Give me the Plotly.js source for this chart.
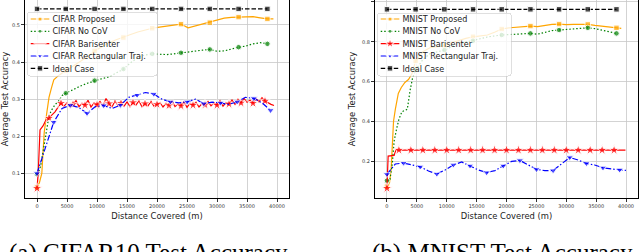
<!DOCTYPE html>
<html><head><meta charset="utf-8">
<script src="https://cdn.plot.ly/plotly-3.0.1.min.js"></script>
<style>html,body{margin:0;padding:0;background:#fff;overflow:hidden}#chart{width:640px;height:252px}</style>
</head><body><div id="chart"></div>
<script>
// ---------- data ----------
var xTickVals = [0, 5000, 10000, 15000, 20000, 25000, 30000, 35000, 40000];
var xTickText = ['0', '5000', '10000', '15000', '20000', '25000', '30000', '35000', '40000'];
var cifarYTickVals = [0.1, 0.2, 0.3, 0.4, 0.5];
var cifarYTickText = ['0.1', '0.2', '0.3', '0.4', '0.5'];
var mnistYTickVals = [0.2, 0.4, 0.6, 0.8, 1.0];
var mnistYTickText = ['0.2', '0.4', '0.6', '0.8', '1.0'];

var seriesNamesCifar = ['CIFAR Proposed', 'CIFAR No CoV', 'CIFAR Barisenter', 'CIFAR Rectangular Traj.', 'Ideal Case'];
var seriesNamesMnist = ['MNIST Proposed', 'MNIST No CoV', 'MNIST Barisenter', 'MNIST Rectangular Traj.', 'Ideal Case'];

var idealX = [0, 4800, 9600, 14400, 19200, 24000, 28800, 33600, 38400];
var cifarIdealY = [0.543, 0.543, 0.543, 0.543, 0.543, 0.543, 0.543, 0.543, 0.543];
var mnistIdealY = [0.963, 0.963, 0.963, 0.963, 0.963, 0.963, 0.963, 0.963, 0.963];

var cifarPropX = [0, 400, 800, 1000, 1200, 1600, 2000, 2400, 2800, 3600, 4800, 6000, 7200, 8400, 9600, 10800, 12000, 13200, 14400, 15600, 16800, 18000, 19200, 20400, 21600, 22800, 24000, 25200, 26400, 27600, 28800, 30000, 31200, 32400, 33600, 34800, 36000, 37200, 38400, 39400];
var cifarPropY = [0.0625, 0.075, 0.10, 0.15, 0.21, 0.26, 0.305, 0.33, 0.352, 0.364, 0.377, 0.39, 0.402, 0.414, 0.43, 0.441, 0.452, 0.46, 0.466, 0.474, 0.481, 0.487, 0.491, 0.494, 0.497, 0.5, 0.502, 0.492, 0.497, 0.501, 0.506, 0.513, 0.518, 0.52, 0.521, 0.521, 0.522, 0.519, 0.516, 0.516];

var cifarNoCovX = [0, 300, 600, 900, 1200, 1600, 2000, 2400, 3000, 3600, 4200, 4800, 6000, 7200, 8400, 9600, 10800, 12000, 13200, 14400, 15600, 16800, 18000, 19200, 20400, 21600, 22800, 24000, 25200, 26400, 27600, 28800, 30000, 31200, 32400, 33600, 34800, 36000, 37200, 38400];
var cifarNoCovY = [0.098, 0.105, 0.12, 0.15, 0.18, 0.22, 0.255, 0.27, 0.285, 0.295, 0.31, 0.316, 0.326, 0.335, 0.343, 0.35, 0.355, 0.36, 0.37, 0.381, 0.398, 0.412, 0.419, 0.422, 0.421, 0.42, 0.422, 0.425, 0.427, 0.431, 0.432, 0.434, 0.429, 0.43, 0.436, 0.44, 0.443, 0.449, 0.452, 0.449];

var cifarBariX = [0, 200, 500, 1000, 1500, 2000, 2500, 3000, 3500, 4000, 4500, 5000, 5500, 6000, 6500, 7000, 7500, 8000, 8500, 9000, 9500, 10000, 10500, 11000, 11500, 12000, 12500, 13000, 13500, 14000, 14500, 15000, 15500, 16000, 16500, 17000, 17500, 18000, 18500, 19000, 19500, 20000, 20500, 21000, 21500, 22000, 22500, 23000, 23500, 24000, 24500, 25000, 25500, 26000, 26500, 27000, 27500, 28000, 28500, 29000, 29500, 30000, 30500, 31000, 31500, 32000, 32500, 33000, 33500, 34000, 34500, 35000, 35500, 36000, 36500, 37000, 37500, 38000, 38500, 39000, 39500];
var cifarBariY = [0.06, 0.10, 0.217, 0.228, 0.244, 0.249, 0.258, 0.266, 0.278, 0.289, 0.281, 0.29, 0.279, 0.286, 0.296, 0.28, 0.289, 0.284, 0.297, 0.279, 0.29, 0.285, 0.294, 0.282, 0.302, 0.288, 0.279, 0.295, 0.283, 0.289, 0.281, 0.293, 0.28, 0.291, 0.284, 0.296, 0.279, 0.288, 0.282, 0.294, 0.281, 0.286, 0.291, 0.279, 0.289, 0.283, 0.295, 0.28, 0.287, 0.282, 0.293, 0.278, 0.289, 0.284, 0.292, 0.279, 0.288, 0.285, 0.294, 0.282, 0.29, 0.284, 0.296, 0.281, 0.291, 0.287, 0.298, 0.286, 0.3, 0.29, 0.302, 0.292, 0.297, 0.289, 0.301, 0.293, 0.304, 0.295, 0.29, 0.286, 0.283];

var rectX = [0, 1390, 2780, 4170, 5560, 6950, 8340, 9730, 11120, 12510, 13900, 15290, 16680, 18070, 19460, 20850, 22240, 23630, 25020, 26410, 27800, 29190, 30580, 31970, 33360, 34750, 36140, 37530, 38920];
var cifarRectY = [0.10, 0.17, 0.238, 0.275, 0.284, 0.278, 0.262, 0.28, 0.283, 0.275, 0.284, 0.305, 0.311, 0.318, 0.314, 0.3, 0.293, 0.29, 0.293, 0.3, 0.288, 0.292, 0.29, 0.286, 0.293, 0.305, 0.302, 0.29, 0.27];

var mnistPropX = [0, 400, 700, 900, 1100, 1400, 1900, 2400, 3000, 3600, 4200, 4800, 6000, 7200, 8400, 9600, 10800, 12000, 13200, 14400, 15600, 16800, 18000, 19200, 20400, 21600, 22800, 24000, 25200, 26400, 27600, 28800, 30000, 31200, 32400, 33600, 34800, 36000, 37200, 38400, 39200];
var mnistPropY = [0.071, 0.085, 0.16, 0.30, 0.40, 0.46, 0.54, 0.57, 0.595, 0.61, 0.64, 0.704, 0.75, 0.77, 0.776, 0.78, 0.795, 0.807, 0.817, 0.825, 0.83, 0.834, 0.848, 0.864, 0.87, 0.874, 0.876, 0.879, 0.876, 0.882, 0.887, 0.889, 0.886, 0.887, 0.888, 0.887, 0.882, 0.878, 0.873, 0.87, 0.867];

var mnistNoCovX = [0, 500, 900, 1200, 1600, 2000, 2500, 3000, 3400, 3900, 4300, 4800, 6000, 7200, 8400, 9600, 10800, 12000, 13200, 14400, 15600, 16800, 18000, 19200, 20400, 21600, 22800, 24000, 25200, 26400, 27600, 28800, 30000, 31200, 32400, 33600, 34800, 36000, 37200, 38400];
var mnistNoCovY = [0.101, 0.104, 0.19, 0.30, 0.36, 0.41, 0.448, 0.455, 0.46, 0.56, 0.62, 0.658, 0.71, 0.74, 0.75, 0.758, 0.775, 0.79, 0.798, 0.805, 0.815, 0.824, 0.83, 0.834, 0.836, 0.838, 0.84, 0.842, 0.838, 0.848, 0.856, 0.859, 0.862, 0.866, 0.868, 0.87, 0.866, 0.858, 0.85, 0.842];

var mnistBariX = [0, 200, 1200, 1500, 2000, 4000, 6000, 8000, 10000, 12000, 14000, 16000, 18000, 20000, 22000, 24000, 26000, 28000, 30000, 32000, 34000, 36000, 38000, 39900];
var mnistBariY = [0.063, 0.225, 0.228, 0.255, 0.255, 0.255, 0.255, 0.255, 0.255, 0.255, 0.255, 0.255, 0.255, 0.255, 0.255, 0.255, 0.255, 0.255, 0.255, 0.255, 0.255, 0.255, 0.255, 0.255];

var mnistRectX = [0, 1390, 2780, 4170, 5560, 6950, 8340, 9730, 11120, 12510, 13900, 15290, 16680, 18070, 19460, 20850, 22240, 23630, 25020, 26410, 27800, 29190, 30580, 31970, 33360, 34750, 36140, 37530, 38920, 40000];
var mnistRectY = [0.133, 0.185, 0.19, 0.182, 0.171, 0.15, 0.135, 0.155, 0.181, 0.195, 0.176, 0.155, 0.142, 0.152, 0.176, 0.198, 0.203, 0.18, 0.158, 0.152, 0.152, 0.185, 0.218, 0.205, 0.188, 0.18, 0.166, 0.16, 0.156, 0.153];

// ---------- styles ----------
var STY = [
  {color: '#ffa500', dash: 'solid',            symbol: 'square',        size: 5.5, every: 4800, factor: 1},
  {color: '#008000', dash: '1.5px,2px',        symbol: 'circle',        size: 5.5, every: 4800, factor: 1},
  {color: '#ff0000', dash: 'solid',            symbol: 'star',          size: 8,   every: 2000, factor: 1.33},
  {color: '#0000ff', dash: '6px,2px,1.5px,2px',symbol: 'triangle-down', size: 6.5, every: 2780, factor: 1.155},
  {color: '#000000', dash: '4.5px,2px',        symbol: 'square',        size: 5.5, every: 4800, factor: 1}
];

function makeTrace(name, xs, ys, st, xa, ya, leg) {
  return {
    type: 'scatter', mode: 'lines+markers', name: name, x: xs, y: ys,
    xaxis: xa, yaxis: ya, legend: leg,
    line: {color: st.color, width: 1.2, dash: st.dash},
    marker: {color: st.color, symbol: st.symbol,
             size: xs.map(function (x) { return x % st.every === 0 ? st.size : 0; })}
  };
}

var cifarData = [[cifarPropX, cifarPropY], [cifarNoCovX, cifarNoCovY], [cifarBariX, cifarBariY], [rectX, cifarRectY], [idealX, cifarIdealY]];
var mnistData = [[mnistPropX, mnistPropY], [mnistNoCovX, mnistNoCovY], [mnistBariX, mnistBariY], [mnistRectX, mnistRectY], [idealX, mnistIdealY]];

var traces = [];
cifarData.forEach(function (d, i) { traces.push(makeTrace(seriesNamesCifar[i], d[0], d[1], STY[i], 'x', 'y', 'legend')); });
mnistData.forEach(function (d, i) { traces.push(makeTrace(seriesNamesMnist[i], d[0], d[1], STY[i], 'x2', 'y2', 'legend2')); });

var FONT = 'DejaVu Sans, sans-serif';
function axBase(extra) {
  var a = {
    showline: true, mirror: true, linecolor: '#000', linewidth: 1,
    ticks: 'outside', ticklen: 3, tickwidth: 0.8, tickcolor: '#000',
    showgrid: true, gridcolor: '#c8c8c8', gridwidth: 0.8, zeroline: false,
    tickfont: {family: FONT, size: 5, color: '#333'}, fixedrange: true
  };
  for (var k in extra) a[k] = extra[k];
  return a;
}

var W = 640, H = 252;
var layout = {
  width: W, height: H, margin: {l: 0, r: 0, t: 0, b: 0},
  paper_bgcolor: '#fff', plot_bgcolor: '#fff', showlegend: true,
  font: {family: FONT, color: '#222'},
  xaxis: axBase({domain: [25 / W, 289 / W], anchor: 'y', range: [-2000, 42000],
    tickvals: xTickVals, ticktext: xTickText,
    title: {text: 'Distance Covered (m)', font: {family: FONT, size: 8.4, color: '#222'}, standoff: 5}}),
  yaxis: axBase({domain: [54 / H, 1], anchor: 'x', range: [0.034, 0.567],
    tickvals: cifarYTickVals, ticktext: cifarYTickText,
    title: {text: 'Average Test Accuracy', font: {family: FONT, size: 8.4, color: '#222'}, standoff: 4}}),
  xaxis2: axBase({domain: [375 / W, 638 / W], anchor: 'y2', range: [-2000, 42000],
    tickvals: xTickVals, ticktext: xTickText,
    title: {text: 'Distance Covered (m)', font: {family: FONT, size: 8.4, color: '#222'}, standoff: 5}}),
  yaxis2: axBase({domain: [54 / H, 1], anchor: 'x2', range: [0.014, 1.01],
    tickvals: mnistYTickVals, ticktext: mnistYTickText,
    title: {text: 'Average Test Accuracy', font: {family: FONT, size: 8.4, color: '#222'}, standoff: 5}}),
  legend: {x: 27 / W, y: 1 - 9 / H, xanchor: 'left', yanchor: 'top', bgcolor: 'rgba(255,255,255,0.8)',
    bordercolor: '#cccccc', borderwidth: 1, font: {family: FONT, size: 13, color: '#222'}},
  legend2: {x: 377 / W, y: 1 - 9 / H, xanchor: 'left', yanchor: 'top', bgcolor: 'rgba(255,255,255,0.8)',
    bordercolor: '#cccccc', borderwidth: 1, font: {family: FONT, size: 13, color: '#222'}},
  annotations: [
    {xref: 'paper', yref: 'paper', x: 7 / W, y: 1 - 237 / H, xanchor: 'left', yanchor: 'top', showarrow: false,
     text: '(a) CIFAR10 Test Accuracy', font: {family: 'Liberation Serif, serif', size: 25, color: '#000'}},
    {xref: 'paper', yref: 'paper', x: 370 / W, y: 1 - 237 / H, xanchor: 'left', yanchor: 'top', showarrow: false,
     text: '(b) MNIST Test Accuracy', font: {family: 'Liberation Serif, serif', size: 25, color: '#000'}}
  ]
};

// compact legend geometry (screen px)
var LEG_SCALE = 0.62;
var LEG_SPEC = {
  legend:  {left: 27,  firstCenter: 19, boxTop: 12, boxBottom: 76, width: 130},
  legend2: {left: 377, firstCenter: 19, boxTop: 13, boxBottom: 76, width: 134}
};

function tidyLegend(gd, id, spec) {
  var S = LEG_SCALE;
  var g = gd.querySelector('g.' + id);
  if (!g) return;
  var items = g.querySelectorAll('g.traces');
  if (!items.length) return;
  var ys = [];
  items.forEach(function (it) {
    var m = /translate\(\s*([-\d.e]+)[ ,]+([-\d.e]+)/.exec(it.getAttribute('transform') || '');
    ys.push(m ? parseFloat(m[2]) : 0);
  });
  var c0 = ys[0];
  g.setAttribute('transform', 'translate(' + spec.left + ',' + (spec.firstCenter - c0 * S) + ') scale(' + S + ')');
  var bg = g.querySelector('rect.bg');
  if (bg) {
    bg.setAttribute('x', 0.5);
    bg.setAttribute('y', c0 - (spec.firstCenter - spec.boxTop) / S);
    bg.setAttribute('width', spec.width / S);
    bg.setAttribute('height', (spec.boxBottom - spec.boxTop) / S);
    bg.setAttribute('rx', 3 / S); bg.setAttribute('ry', 3 / S);
  }
  items.forEach(function (it, i) {
    var st = STY[i];
    it.querySelectorAll('path.js-line').forEach(function (p) {
      var sw = parseFloat(p.style.strokeWidth);
      if (!isNaN(sw)) p.style.strokeWidth = (sw / S) + 'px';
      var da = p.style.strokeDasharray;
      if (da && da !== 'none') {
        p.style.strokeDasharray = da.split(/[\s,]+/).filter(Boolean).map(function (v) { return (parseFloat(v) / S) + 'px'; }).join(',');
      }
    });
    it.querySelectorAll('path.scatterpts').forEach(function (p) {
      var bb = p.getBBox();
      var cur = Math.max(bb.width, bb.height);
      if (cur > 0 && st) {
        var k = (st.size * st.factor / S) / cur;
        p.setAttribute('transform', (p.getAttribute('transform') || '') + ' scale(' + k + ')');
      }
    });
  });
}

var gd = document.getElementById('chart');
Plotly.newPlot(gd, traces, layout, {staticPlot: true, displayModeBar: false, responsive: false}).then(function () {
  tidyLegend(gd, 'legend', LEG_SPEC.legend);
  tidyLegend(gd, 'legend2', LEG_SPEC.legend2);
});
</script></body></html>
